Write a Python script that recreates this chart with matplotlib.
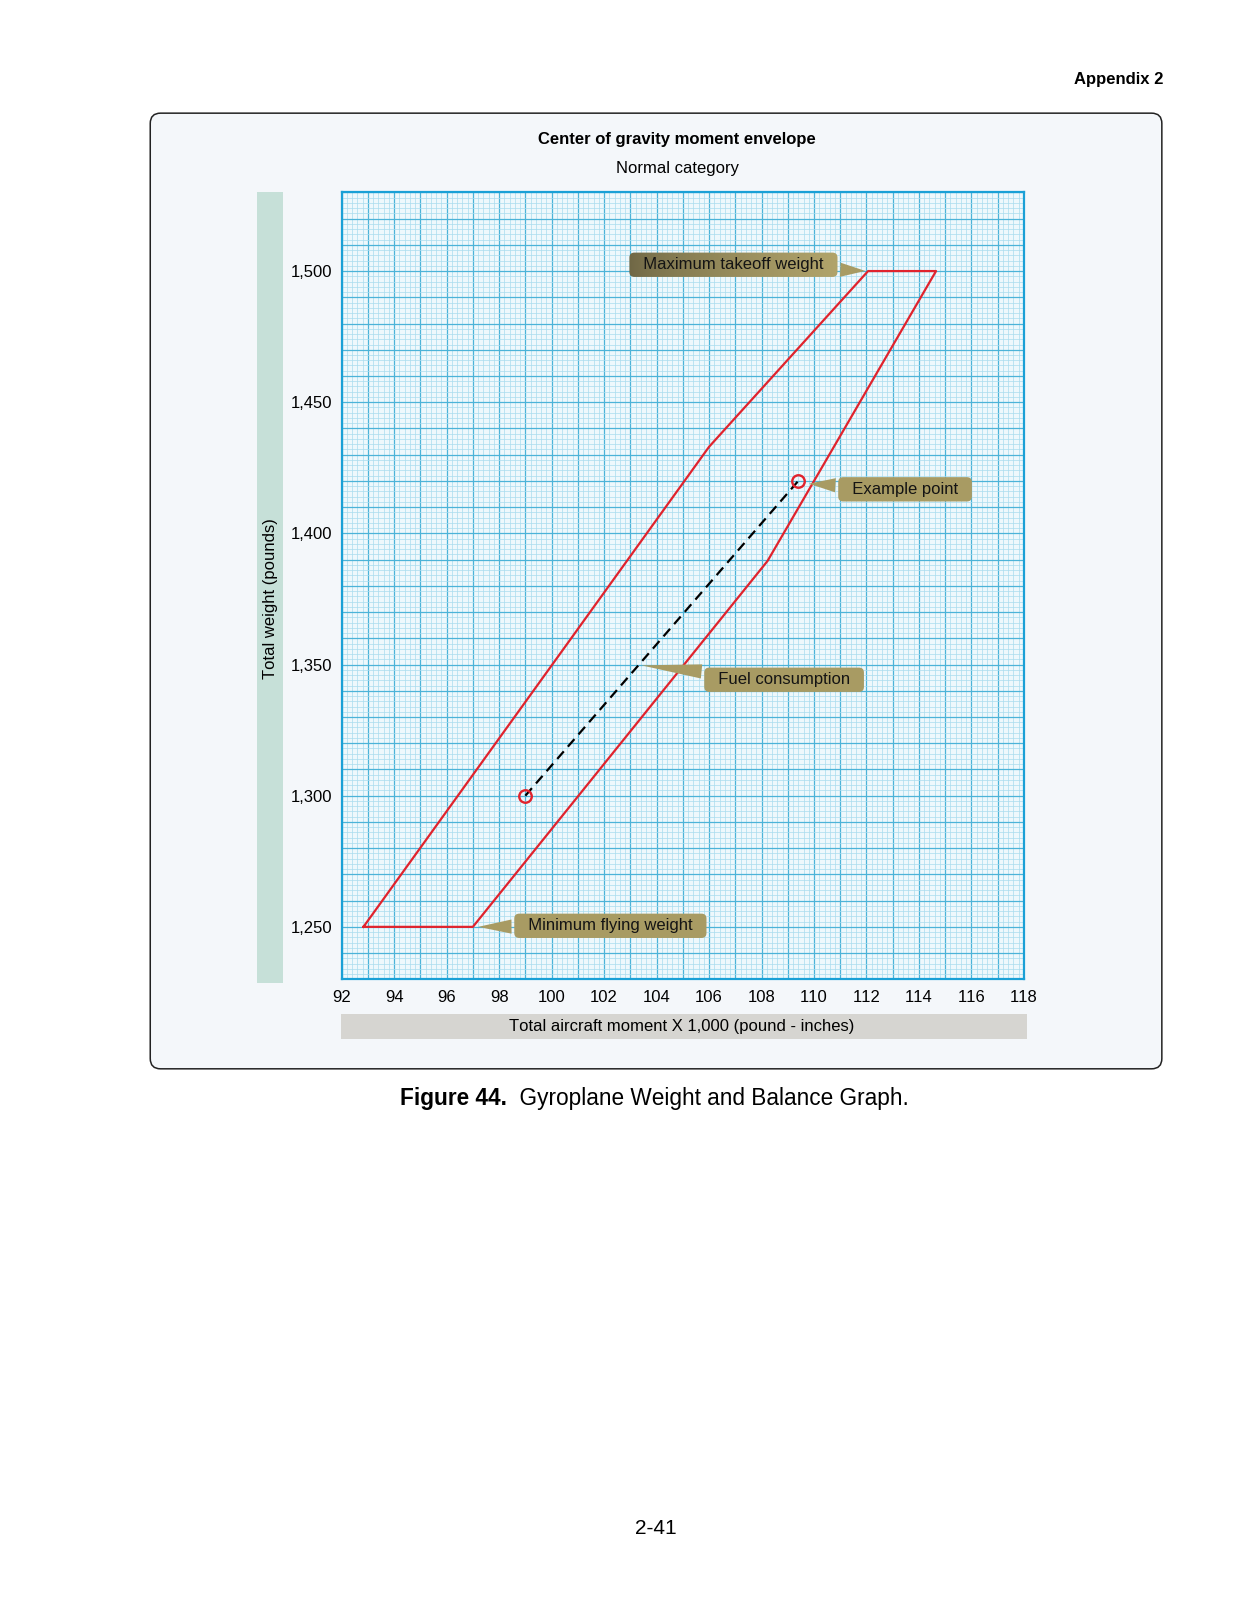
import numpy as np
import matplotlib
matplotlib.use("Agg")
import matplotlib.pyplot as plt
from matplotlib.patches import FancyBboxPatch, Rectangle
from matplotlib.ticker import MultipleLocator, FuncFormatter

plt.rcParams['font.family'] = ['Liberation Sans', 'DejaVu Sans']
plt.rcParams['text.kerning_factor'] = 6  # no "11" squeeze in tick labels

# envelope corners (moment x1000, weight)
env_moment = [92.83, 97.0, 108.23, 114.65, 112.06, 106.0, 92.83]
env_weight = [1250, 1250, 1389.5, 1500, 1500, 1433, 1250]

# fuel burn example
fuel_moment = [99.0, 109.4]
fuel_weight = [1300, 1420]

x_ticks = list(range(92, 119, 2))
y_ticks = [1250, 1300, 1350, 1400, 1450, 1500]

W, H = 1238, 1613
fig = plt.figure(figsize=(W / 100, H / 100), dpi=100)
fig.patch.set_facecolor('white')

def fx(px):  # reference px (1203 wide) -> fig fraction
    return px / 1203.0

def fy(py):
    return 1 - py / 1568.0

# panel
panel = FancyBboxPatch((fx(146), fy(1039)), fx(1129) - fx(146), fy(110) - fy(1039),
                       boxstyle="round,pad=0,rounding_size=0.0083", mutation_aspect=W / H,
                       transform=fig.transFigure, fc='#f4f7fa', ec='#222222', lw=1.1, zorder=0)
fig.patches.append(panel)

# label bands
fig.patches.append(Rectangle((fx(250), fy(956)), fx(275) - fx(250), fy(187) - fy(956),
                             transform=fig.transFigure, fc='#c6e0d8', ec='none', zorder=1))
fig.patches.append(Rectangle((fx(331), fy(1010)), fx(998) - fx(331), fy(986) - fy(1010),
                             transform=fig.transFigure, fc='#d6d5d1', ec='none', zorder=1))

fs = 12
fig.text(fx(262.5), fy(582), 'Total weight (pounds)', rotation=90, ha='center', va='center', fontsize=fs)
fig.text(fx(662), fy(998), 'Total aircraft moment X 1,000 (pound - inches)', ha='center', va='center', fontsize=fs)

fig.text(fx(658), fy(136), 'Center of gravity moment envelope', ha='center', va='center',
         fontsize=fs, fontweight='bold')
fig.text(fx(658), fy(164), 'Normal category', ha='center', va='center', fontsize=fs)
fig.text(fx(1130), fy(77), 'Appendix 2', ha='right', va='center', fontsize=fs, fontweight='bold')
fig.text(fx(637), fy(1486), '2-41', ha='center', va='center', fontsize=15)

cap = fig.text(fx(389), fy(1074), 'Figure 44.', ha='left', va='baseline', fontsize=16.3, fontweight='bold')

ax = fig.add_axes([fx(332), fy(952), fx(995) - fx(332), fy(187) - fy(952)])
ax.set_zorder(2)
ax.set_facecolor('#eef8fc')
ax.set_xlim(92, 118)
ax.set_ylim(1230, 1530)

ax.xaxis.set_major_locator(MultipleLocator(1))
ax.xaxis.set_minor_locator(MultipleLocator(0.2))
ax.yaxis.set_major_locator(MultipleLocator(10))
ax.yaxis.set_minor_locator(MultipleLocator(2))
ax.xaxis.set_major_formatter(FuncFormatter(lambda v, p: f'{int(round(v))}' if int(round(v)) in x_ticks else ''))
ax.yaxis.set_major_formatter(FuncFormatter(lambda v, p: f'{int(round(v)):,}' if int(round(v)) in y_ticks else ''))
ax.tick_params(which='both', length=0)
ax.tick_params(axis='x', pad=8, labelsize=fs)
ax.tick_params(axis='y', pad=7, labelsize=fs)
ax.grid(which='minor', color='#a9dcef', lw=0.5)
ax.grid(which='major', color='#4cb3d8', lw=0.9)
ax.set_axisbelow(True)
for s in ax.spines.values():
    s.set_color('#1aa0d6')
    s.set_linewidth(1.6)

ax.plot(env_moment, env_weight, color='#e0232d', lw=1.6, zorder=3)
ax.plot(fuel_moment, fuel_weight, color='black', lw=1.6, ls=(0, (4.5, 2.8)), zorder=3)
ax.plot(fuel_moment, fuel_weight, ls='none', marker='o', ms=9, mfc='none', mec='#e0232d', mew=1.7, zorder=4)

box_c = '#a89b63'
def callout(txt, xy, xytext, fc=box_c):
    return ax.annotate(txt, xy=xy, xytext=xytext, ha='center', va='center', fontsize=12, color='#141414',
                       bbox=dict(boxstyle='round,pad=0.28,rounding_size=0.3', fc=fc, ec='none'),
                       arrowprops=dict(arrowstyle='wedge,tail_width=0.85,shrink_factor=0.5', fc=box_c, ec='none',
                                       connectionstyle='arc3,rad=0'),
                       zorder=5)

t_max = callout('  Maximum takeoff weight  ', (env_moment[4], env_weight[4]), (106.93, 1502.4), fc='none')
callout('  Example point  ', (fuel_moment[1] + 0.3, fuel_weight[1] - 1), (113.47, 1416.8))
fc_x = fuel_moment[0] + 0.415 * (fuel_moment[1] - fuel_moment[0])
fc_y = fuel_weight[0] + 0.415 * (fuel_weight[1] - fuel_weight[0])
callout('  Fuel consumption  ', (fc_x, fc_y), (108.86, 1344.2))
callout('  Minimum flying weight  ', (env_moment[1] + 0.1, env_weight[1]), (102.24, 1250.4))

# gradient fill for the top callout, and caption second half
fig.canvas.draw()
cb = cap.get_window_extent()
fig.text(cb.x1 / W, fy(1074), '  Gyroplane Weight and Balance Graph.', ha='left', va='baseline', fontsize=16.3)

patch = t_max.get_bbox_patch()
bb = patch.get_window_extent()
inv = ax.transData.inverted()
(x0, y0), (x1, y1) = inv.transform([(bb.x0, bb.y0), (bb.x1, bb.y1)])
c0 = np.array(matplotlib.colors.to_rgb('#6e6645'))
c1 = np.array(matplotlib.colors.to_rgb('#b1a46b'))
t = np.linspace(0, 1, 256) ** 0.7
grad = (c0[None, :] * (1 - t[:, None]) + c1[None, :] * t[:, None])[None, :, :]
im = ax.imshow(grad, extent=[x0, x1, y0, y1], aspect='auto', zorder=4.5, interpolation='bilinear')
im.set_clip_path(patch)
ax.set_xlim(92, 118)
ax.set_ylim(1230, 1530)

fig.savefig('out.png', dpi=100)
